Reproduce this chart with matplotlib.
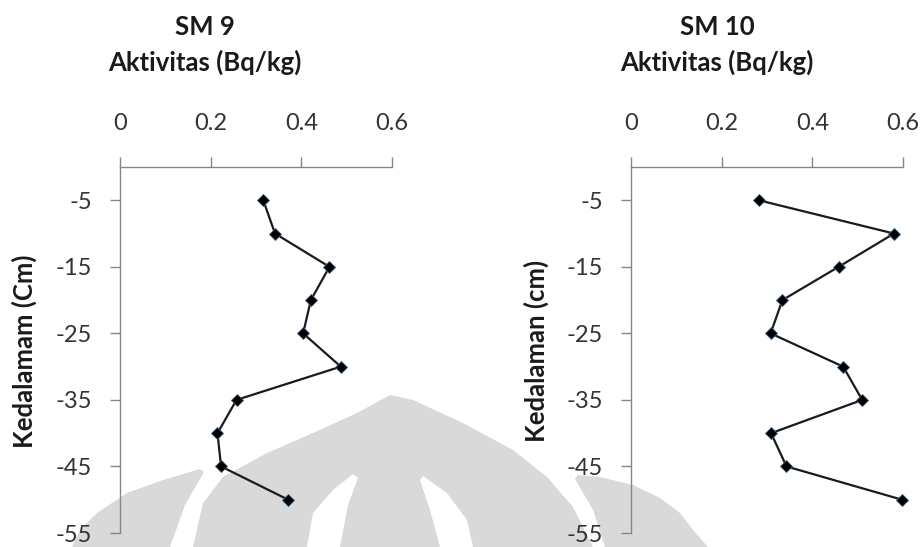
import matplotlib
matplotlib.use('Agg')
import matplotlib.pyplot as plt
from matplotlib.patches import Polygon

plt.rcParams['font.family'] = ['Lato', 'DejaVu Sans']

W, H = 923, 547

depth = [-5, -10, -15, -20, -25, -30, -35, -40, -45, -50]
sm9 = [0.316, 0.342, 0.462, 0.421, 0.404, 0.487, 0.257, 0.215, 0.223, 0.371]
sm10 = [0.282, 0.580, 0.458, 0.334, 0.308, 0.468, 0.510, 0.309, 0.343, 0.598]

x_ticks = [0, 0.2, 0.4, 0.6]
x_labels = ['0', '0.2', '0.4', '0.6']
y_ticks = [-5, -15, -25, -35, -45, -55]
y_labels = ['-5', '-15', '-25', '-35', '-45', '-55']

panels = [
    ('SM 9', 'Kedalamam (Cm)', sm9),
    ('SM 10', 'Kedalaman (cm)', sm10),
]

# background watermark outline, pixel coords (y down)
wm_shapes = [
    ('#d9d9d9', [(193, 547), (203, 503), (223, 477), (267, 453), (313, 433),
                 (357, 413), (390, 395), (413, 400), (463, 423), (513, 450),
                 (547, 477), (573, 507), (593, 547)]),
    ('white', [(307, 547), (313, 513), (333, 490), (353, 474), (358, 478),
               (348, 505), (340, 547)]),
    ('white', [(473, 547), (467, 520), (447, 493), (423, 476), (420, 480),
               (430, 510), (440, 547)]),
    ('#d9d9d9', [(72, 547), (80, 530), (97, 513), (127, 493), (163, 480),
                 (200, 469), (204, 472), (185, 505), (170, 547)]),
    ('#d9d9d9', [(708, 547), (693, 530), (680, 513), (660, 498), (633, 485),
                 (600, 477), (578, 475), (575, 479), (593, 510), (605, 547)]),
]

fig = plt.figure(figsize=(W / 100, H / 100), dpi=100)
fig.patch.set_facecolor('white')

for color, pts in wm_shapes:
    poly = Polygon([(x / W, 1 - y / H) for x, y in pts], closed=True,
                   facecolor=color, edgecolor='none',
                   transform=fig.transFigure, zorder=-5)
    fig.patches.append(poly)

axis_left = [120, 631]
ax_w, ax_top, ax_bot = 272, 167, 533
title_x = [205, 717]
ylabel_x = [24, 536]

for i, (name, ylab, vals) in enumerate(panels):
    ax = fig.add_axes([axis_left[i] / W, 1 - ax_bot / H, ax_w / W, (ax_bot - ax_top) / H])
    ax.set_facecolor('none')
    ax.plot(vals, depth, color='#1a1a1a', lw=1.6, marker='D', ms=6.5,
            mfc='black', mec='#3d5a7a', mew=0.6, clip_on=False, zorder=3)
    ax.set_xlim(0, 0.6)
    ax.set_ylim(-55, 0)
    ax.set_xticks(x_ticks)
    ax.set_xticklabels(x_labels)
    ax.set_yticks(y_ticks)
    ax.set_yticklabels(y_labels)
    ax.xaxis.tick_top()
    ax.tick_params(axis='x', direction='out', length=7, width=1, color='#868686',
                   pad=17, labelsize=17, labelcolor='#333333')
    ax.tick_params(axis='y', direction='out', length=7, width=1, color='#868686',
                   pad=13, labelsize=17, labelcolor='#333333')
    for side in ['right', 'bottom']:
        ax.spines[side].set_visible(False)
    for side in ['top', 'left']:
        ax.spines[side].set_color('#868686')
        ax.spines[side].set_linewidth(1)

    fig.text(title_x[i] / W, 1 - 27 / H, name, ha='center', va='center',
             fontsize=18.5, fontweight='bold', color='#1a1a1a')
    fig.text(title_x[i] / W, 1 - 62 / H, 'Aktivitas (Bq/kg)', ha='center', va='center',
             fontsize=18.5, fontweight='bold', color='#1a1a1a')
    fig.text(ylabel_x[i] / W, 1 - 351 / H, ylab, ha='center', va='center',
             rotation=90, fontsize=18.5, fontweight='bold', color='#1a1a1a')

fig.savefig('out.png', dpi=100)
